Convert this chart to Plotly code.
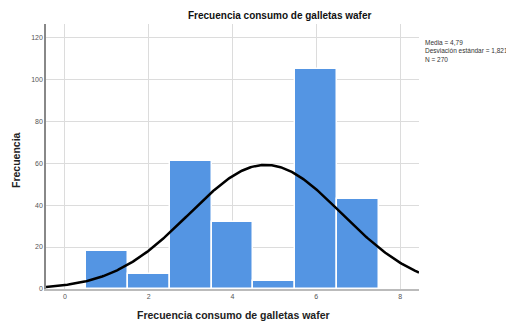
import numpy as np
import plotly.graph_objects as go

categories = [1, 2, 3, 4, 5, 6, 7]
frecuencias = [18, 7, 61, 32, 4, 105, 43]
media = 4.79
desviacion = 1.821
n_total = 270
x_ticks = [0, 2, 4, 6, 8]
y_ticks = [0, 20, 40, 60, 80, 100, 120]

# fitted normal curve from the reported statistics
xc = np.linspace(-0.45, 8.45, 300)
yc = n_total * 1.0 / (desviacion * np.sqrt(2 * np.pi)) * np.exp(-0.5 * ((xc - media) / desviacion) ** 2)

# page body has an 8px margin, so the figure is 8px smaller and offset
OFF = 8
W, H = 514 - OFF, 323 - OFF
L, T = 46 - OFF, 24 - OFF
R = W - (419 - OFF)
B = H - (289 - OFF)
pw, ph = W - L - R, H - T - B


def px(xp):
    return (xp - OFF - L) / pw


def py(yp):
    return 1 - ((yp - OFF) - T) / ph


fig = go.Figure()
fig.add_trace(go.Bar(
    x=categories, y=frecuencias, width=1.0,
    marker=dict(color="#5495E3", line=dict(color="white", width=1.5)),
    showlegend=False, hoverinfo="x+y",
))
fig.add_trace(go.Scatter(
    x=xc, y=yc, mode="lines", line=dict(color="black", width=2.5),
    showlegend=False, hoverinfo="skip",
))

fig.update_layout(
    width=W, height=H,
    margin=dict(l=L, r=R, t=T, b=B, autoexpand=False),
    paper_bgcolor="white", plot_bgcolor="white",
    font=dict(family="Liberation Sans, Arial, sans-serif", color="#222"),
    bargap=0,
    annotations=[
        dict(text="<b>Frecuencia consumo de galletas wafer</b>",
             x=px(280), y=py(15), xanchor="center", yanchor="middle",
             xref="paper", yref="paper", showarrow=False, font=dict(size=10, color="#111")),
        dict(text="Media = 4,79<br>Desviación estándar = 1,821<br>N = 270",
             xref="paper", yref="paper", x=px(423), y=py(37),
             xanchor="left", yanchor="top",
             align="left", showarrow=False, font=dict(size=6.5, color="#333")),
        dict(text="<b>Frecuencia consumo de galletas wafer</b>",
             x=px(233), y=py(315), xanchor="center", yanchor="middle",
             xref="paper", yref="paper", showarrow=False, font=dict(size=10.5, color="#222")),
        dict(text="<b>Frecuencia</b>", textangle=-90,
             x=px(16), y=py(160), xanchor="center", yanchor="middle",
             xref="paper", yref="paper", showarrow=False, font=dict(size=10.5, color="#222")),
    ],
    xaxis=dict(
        range=[-0.45, 8.45], tickvals=x_ticks, ticktext=[str(v) for v in x_ticks],
        showgrid=True, gridcolor="#dcdcdc", gridwidth=1, automargin=False,
        showline=True, linecolor="#bbbbbb", linewidth=1.5, zeroline=False,
        ticks="", tickfont=dict(size=7, color="#555"),
    ),
    yaxis=dict(
        range=[0, 126.3], tickvals=y_ticks, ticktext=[str(v) for v in y_ticks],
        showgrid=True, gridcolor="#dcdcdc", gridwidth=1, automargin=False,
        showline=True, linecolor="#888888", linewidth=1.5, zeroline=False,
        ticks="", tickfont=dict(size=7, color="#555"),
    ),
)
fig.write_html("out.html")
